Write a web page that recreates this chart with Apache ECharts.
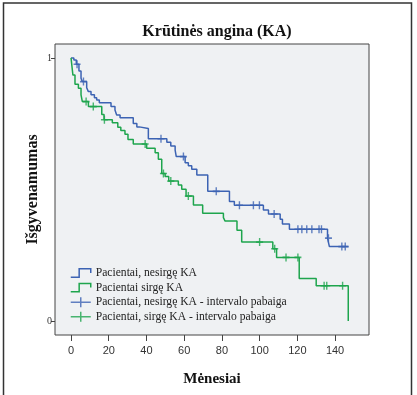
<!DOCTYPE html>
<html><head><meta charset="utf-8">
<script src="https://cdn.jsdelivr.net/npm/echarts@6/dist/echarts.min.js"></script>
<style>html,body{margin:0;padding:0;background:#fff}#c{width:417px;height:395px}</style>
</head><body><div id="c"></div>
<script>
const chartTitle = 'Krūtinės angina (KA)';
const xName = 'Mėnesiai';
const yName = 'Išgyvenamumas';
const xTicks = [0, 20, 40, 60, 80, 100, 120, 140];
const yTicks = [0, 1];
const seriesNames = ['Pacientai, nesirgę KA', 'Pacientai sirgę KA',
  'Pacientai, nesirgę KA - intervalo pabaiga', 'Pacientai, sirgę KA - intervalo pabaiga'];

// Patients without KA (blue): event times and survival after each step
const noKaTimes = [0, 1.5, 2.8, 4.2, 5.3, 6, 8.3, 9.2, 10.6, 12.4, 13.6, 15, 21.2, 23.3, 24.2, 26, 33, 34.9, 36.2, 41,
  50.8, 52.9, 55.2, 55.8, 60.5, 62.2, 64, 66.7, 72.5, 84, 86.6, 102, 104.7, 110.9, 112.1, 115.8, 136, 137, 147];
const noKaSurv = [1, 0.992, 0.976, 0.95, 0.923, 0.91, 0.887, 0.872, 0.86, 0.849, 0.84, 0.83, 0.815, 0.802, 0.783, 0.773, 0.751, 0.738, 0.732, 0.693,
  0.68, 0.665, 0.65, 0.625, 0.602, 0.59, 0.577, 0.555, 0.493, 0.454, 0.44, 0.422, 0.407, 0.387, 0.369, 0.349, 0.315, 0.283, 0.283];
const noKaCensorTimes = [3.2, 6.6, 47.7, 59.6, 77, 89.3, 96.7, 99.9, 107.7, 120.3, 122.4, 125, 127.7, 131.5, 132.8, 136.5, 143.6, 145.4];

// Patients with KA (green)
const kaTimes = [0, 1, 2.1, 3.9, 5.3, 6, 9.2, 16.3, 17.5, 21.9, 24.8, 26.4, 28.6, 30.2, 33, 40.1, 44.6, 46.3, 48.1, 49.9,
  51.8, 56.9, 58.7, 61, 64.9, 69.8, 80.8, 81.7, 88, 90.5, 107, 109, 121, 130, 147];
const kaSurv = [1, 0.935, 0.9, 0.885, 0.86, 0.834, 0.815, 0.785, 0.765, 0.754, 0.737, 0.724, 0.71, 0.69, 0.673, 0.657, 0.64, 0.615, 0.561, 0.549,
  0.532, 0.517, 0.501, 0.475, 0.441, 0.41, 0.393, 0.38, 0.345, 0.3, 0.275, 0.242, 0.162, 0.134, 0];
const kaCensorTimes = [8, 11.8, 17.7, 39.3, 49, 52.9, 62.2, 100, 108, 114, 120.3, 134.2, 135.6, 144];

const BLUE = '#3c63b3', GREEN = '#1ea54d';
const SERIF = '"Liberation Serif","Times New Roman",serif';
const SANS = '"Liberation Sans",Arial,sans-serif';

function stepAt(times, surv, t) {
  let v = surv[0];
  for (let i = 0; i < times.length; i++) { if (times[i] <= t) v = surv[i]; }
  return v;
}
const zip = (a, b) => a.map((v, i) => [v, b[i]]);
const censorPts = (ct, times, surv) => ct.map(t => [t, stepAt(times, surv, t)]);

const plusPath = 'path://M0,5 L10,5 M5,0 L5,10';
const stepIcon = 'path://M0,9 L8,9 L8,1 L19,1 L19,5';
const plusIcon = 'path://M0,5 L20,5 M10,0 L10,10';

const chart = echarts.init(document.getElementById('c'), null, {renderer: 'canvas'});
chart.setOption({
  backgroundColor: '#ffffff',
  animation: false,
  title: {
    text: chartTitle, left: 212, top: 19, textAlign: 'center',
    textStyle: {fontFamily: SERIF, fontWeight: 'bold', fontSize: 16, color: '#111'}
  },
  graphic: [{
    type: 'rect', shape: {x: 3.5, y: 3, width: 408, height: 400},
    style: {fill: 'none', stroke: '#333', lineWidth: 1.5}, silent: true, z: -1
  }],
  grid: {
    left: 55, right: 48, top: 44, bottom: 60, show: true,
    backgroundColor: '#eff1f3', borderColor: '#444', borderWidth: 1
  },
  legend: {
    orient: 'vertical', left: 65, top: 262, itemWidth: 20, itemHeight: 10, itemGap: 2.6,
    textStyle: {fontFamily: SERIF, fontSize: 11.6, color: '#222'},
    data: [
      {name: seriesNames[0], icon: stepIcon, itemStyle: {color: 'rgba(0,0,0,0)', borderColor: BLUE, borderWidth: 1.5}},
      {name: seriesNames[1], icon: stepIcon, itemStyle: {color: 'rgba(0,0,0,0)', borderColor: GREEN, borderWidth: 1.5}},
      {name: seriesNames[2], icon: plusIcon, itemStyle: {color: 'rgba(0,0,0,0)', borderColor: BLUE, borderWidth: 1.5}},
      {name: seriesNames[3], icon: plusIcon, itemStyle: {color: 'rgba(0,0,0,0)', borderColor: GREEN, borderWidth: 1.5}}
    ]
  },
  xAxis: {
    type: 'value', min: -8.5, max: 158,
    name: xName, nameLocation: 'middle', nameGap: 37, nameMoveOverlap: false,
    nameTextStyle: {fontFamily: SERIF, fontWeight: 'bold', fontSize: 15, color: '#111'},
    axisLine: {show: false, onZero: false},
    axisTick: {show: true, customValues: xTicks, length: 6, lineStyle: {color: '#444'}},
    axisLabel: {customValues: xTicks, fontFamily: SANS, fontSize: 11, color: '#333', margin: 10},
    splitLine: {show: false}
  },
  yAxis: {
    type: 'value', min: -0.053, max: 1.053,
    name: yName, nameLocation: 'middle', nameGap: 14, nameMoveOverlap: false,
    nameTextStyle: {fontFamily: SERIF, fontWeight: 'bold', fontSize: 16, color: '#111'},
    axisLine: {show: false, onZero: false},
    axisTick: {show: true, customValues: yTicks, length: 4, lineStyle: {color: '#444'}},
    axisLabel: {customValues: yTicks, fontFamily: SERIF, fontSize: 10, color: '#333', margin: 3},
    splitLine: {show: false}
  },
  series: [
    {name: seriesNames[0], type: 'line', step: 'end', showSymbol: false, data: zip(noKaTimes, noKaSurv),
      lineStyle: {color: BLUE, width: 1.5}, itemStyle: {color: BLUE}},
    {name: seriesNames[1], type: 'line', step: 'end', showSymbol: false, data: zip(kaTimes, kaSurv),
      lineStyle: {color: GREEN, width: 1.5}, itemStyle: {color: GREEN}},
    {name: seriesNames[2], type: 'scatter', symbol: plusPath, symbolSize: [7, 8],
      data: censorPts(noKaCensorTimes, noKaTimes, noKaSurv),
      itemStyle: {color: 'rgba(0,0,0,0)', borderColor: BLUE, borderWidth: 1.5}},
    {name: seriesNames[3], type: 'scatter', symbol: plusPath, symbolSize: [7, 8],
      data: censorPts(kaCensorTimes, kaTimes, kaSurv),
      itemStyle: {color: 'rgba(0,0,0,0)', borderColor: GREEN, borderWidth: 1.5}}
  ]
});
</script></body></html>
